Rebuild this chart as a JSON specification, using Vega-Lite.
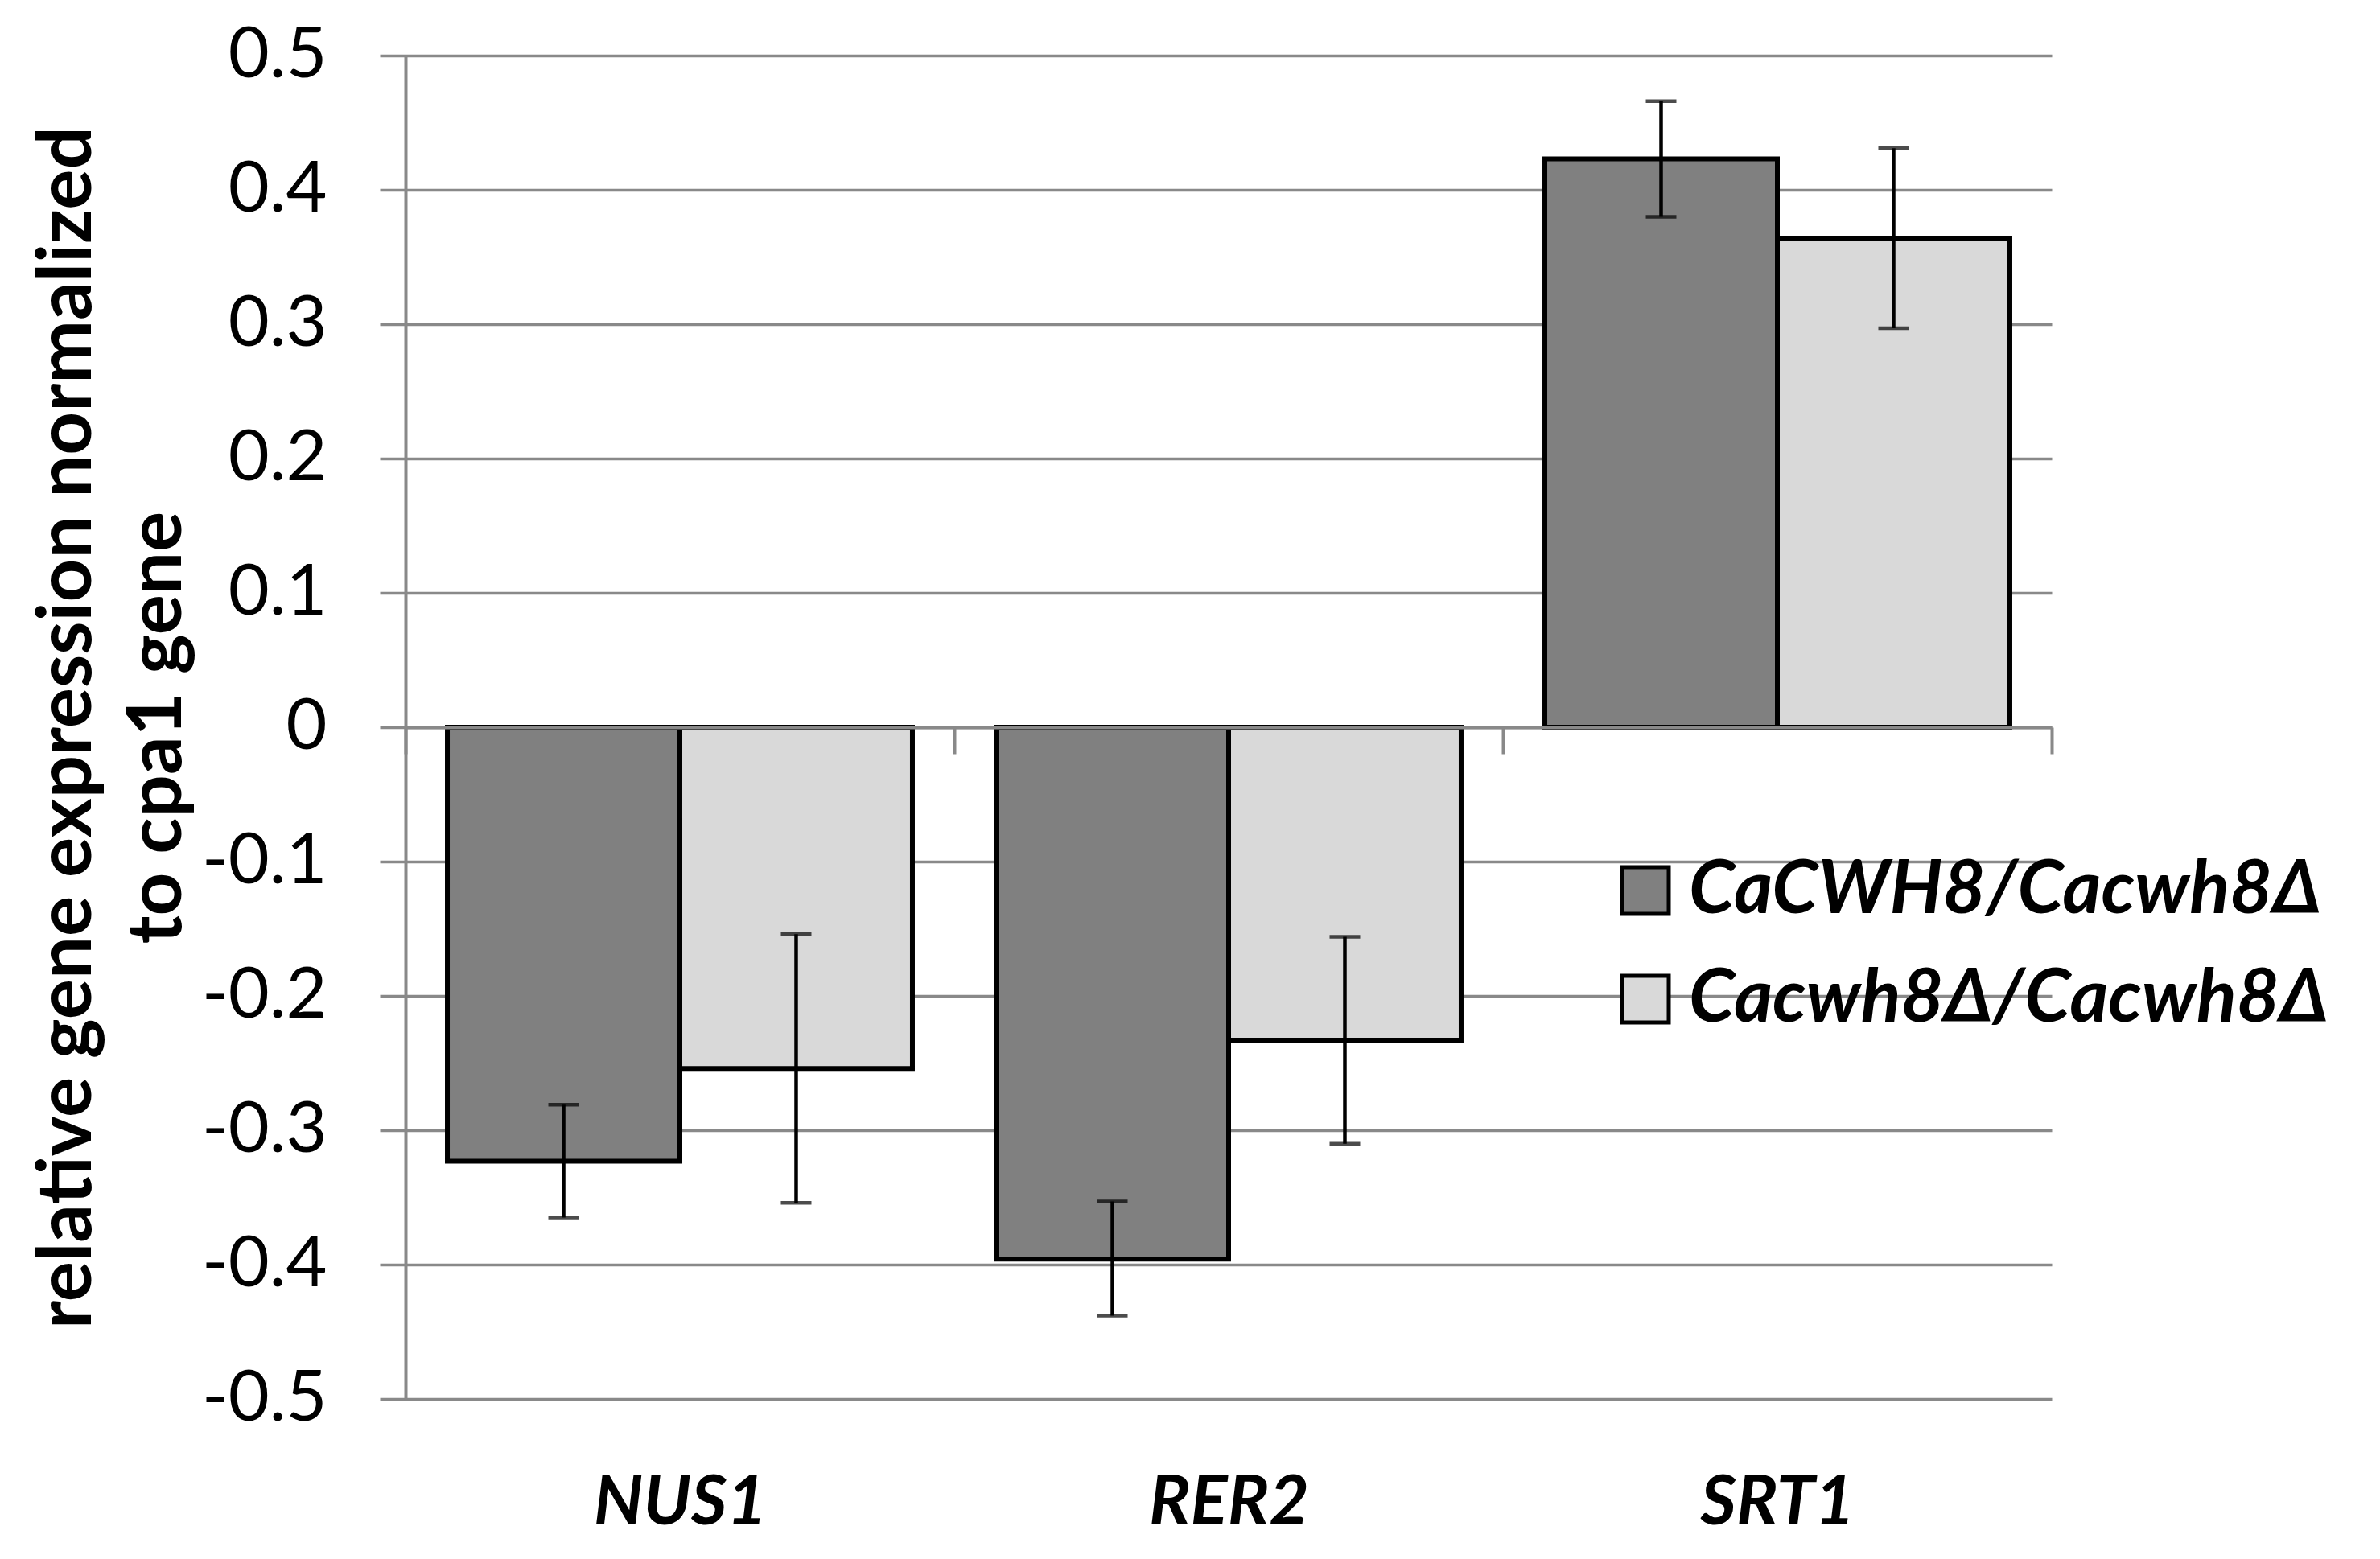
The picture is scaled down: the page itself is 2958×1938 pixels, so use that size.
{
  "$schema": "https://vega.github.io/schema/vega-lite/v6.json",
  "autosize": {"type": "none"},
  "width": 2046,
  "height": 1670,
  "padding": {"left": 504, "top": 69, "right": 408, "bottom": 199},
  "background": "white",
  "config": {"view": {"stroke": null}, "font": "Lato"},
  "data": {"values": [
    {"gene": "NUS1", "strain": "CaCWH8/Cacwh8Δ", "mean": -0.323, "lo": -0.365, "hi": -0.281},
    {"gene": "NUS1", "strain": "Cacwh8Δ/Cacwh8Δ", "mean": -0.254, "lo": -0.354, "hi": -0.154},
    {"gene": "RER2", "strain": "CaCWH8/Cacwh8Δ", "mean": -0.396, "lo": -0.438, "hi": -0.353},
    {"gene": "RER2", "strain": "Cacwh8Δ/Cacwh8Δ", "mean": -0.233, "lo": -0.310, "hi": -0.156},
    {"gene": "SRT1", "strain": "CaCWH8/Cacwh8Δ", "mean": 0.423, "lo": 0.380, "hi": 0.466},
    {"gene": "SRT1", "strain": "Cacwh8Δ/Cacwh8Δ", "mean": 0.364, "lo": 0.297, "hi": 0.431}
  ]},
  "encoding": {
    "x": {
      "field": "gene", "type": "nominal", "sort": ["NUS1", "RER2", "SRT1"],
      "scale": {"paddingInner": 0, "paddingOuter": 0},
      "axis": {
        "title": null, "labelAngle": 0, "zindex": 1,
        "offset": -835,
        "domainColor": "#898989", "domainWidth": 4,
        "tickColor": "#898989", "tickWidth": 4, "tickSize": 33, "tickBand": "extent",
        "labelFont": "Lato", "labelFontSize": 86, "labelFontWeight": "bold", "labelFontStyle": "italic",
        "labelColor": "black", "labelBaseline": "middle", "labelPadding": 931, "labelLimit": 1000
      }
    },
    "xOffset": {
      "field": "strain", "type": "nominal",
      "sort": ["CaCWH8/Cacwh8Δ", "Cacwh8Δ/Cacwh8Δ"],
      "scale": {"paddingInner": 0, "paddingOuter": 0.18}
    }
  },
  "layer": [
    {
      "mark": {"type": "bar", "stroke": "black", "strokeWidth": 6},
      "encoding": {
        "y": {
          "field": "mean", "type": "quantitative",
          "scale": {"domain": [-0.5, 0.5], "nice": false, "zero": false},
          "axis": {
            "values": [-0.5, -0.4, -0.3, -0.2, -0.1, 0, 0.1, 0.2, 0.3, 0.4, 0.5],
            "labelExpr": "replace(format(datum.value, '.1~f'), '−', '-')",
            "grid": true, "gridColor": "#898989", "gridWidth": 3.5,
            "domainColor": "#898989", "domainWidth": 4,
            "tickColor": "#898989", "tickWidth": 3.5, "tickSize": 32,
            "labelFont": "Lato", "labelFontSize": 88, "labelColor": "black",
            "labelPadding": 66, "labelBaseline": "middle",
            "title": ["relative gene expression normalized", "to cpa1 gene"],
            "titleFont": "Lato", "titleFontSize": 94, "titleFontWeight": "bold", "titleColor": "black",
            "titleLineHeight": 112, "titleAngle": -90, "titleX": -392, "titleY": 835,
            "titleAlign": "center", "titleBaseline": "alphabetic", "titleLimit": 3000
          }
        },
        "fill": {
          "field": "strain", "type": "nominal",
          "scale": {"domain": ["CaCWH8/Cacwh8Δ", "Cacwh8Δ/Cacwh8Δ"], "range": ["#808080", "#d9d9d9"]},
          "legend": {
            "title": null, "orient": "none", "legendX": 1495, "legendY": 992,
            "padding": 0,
            "symbolType": "square", "symbolSize": 3364, "symbolStrokeColor": "black", "symbolStrokeWidth": 5,
            "labelFont": "Lato", "labelFontSize": 92, "labelFontWeight": "bold", "labelFontStyle": "italic",
            "labelColor": "black", "labelOffset": 8, "rowPadding": 43, "labelLimit": 1000
          }
        }
      }
    },
    {
      "mark": {"type": "rule", "color": "black", "strokeWidth": 4.5},
      "encoding": {
        "y": {"field": "lo", "type": "quantitative"},
        "y2": {"field": "hi"}
      }
    },
    {
      "mark": {"type": "tick", "color": "black", "thickness": 4.5, "size": 38, "orient": "horizontal"},
      "encoding": {"y": {"field": "lo", "type": "quantitative"}}
    },
    {
      "mark": {"type": "tick", "color": "black", "thickness": 4.5, "size": 38, "orient": "horizontal"},
      "encoding": {"y": {"field": "hi", "type": "quantitative"}}
    }
  ]
}
